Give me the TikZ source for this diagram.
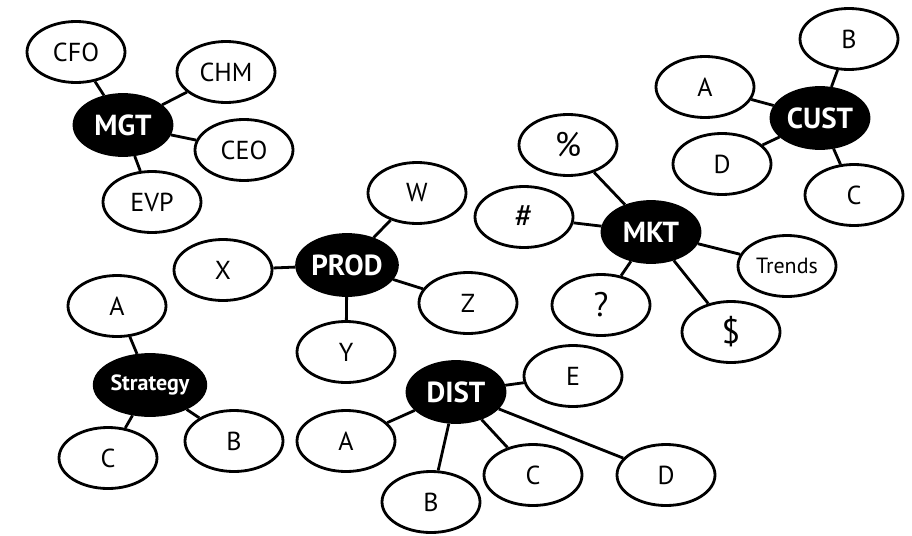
\documentclass[tikz,border=0pt]{standalone}
\usepackage{fontspec}
\setmainfont{PT Sans}
\usetikzlibrary{shapes.geometric}
\tikzset{
  leaf/.style={ellipse,draw=black,line width=2.8pt,fill=white,minimum width=98pt,minimum height=61pt,inner sep=0pt,font=\fontsize{26}{28}\selectfont},
  symleaf/.style={leaf,font=\fontsize{34}{36}\selectfont},
  hub/.style={ellipse,draw=black,line width=2.8pt,fill=black,text=white,minimum width=98pt,minimum height=61pt,inner sep=0pt,font=\bfseries\fontsize{29}{31}\selectfont},
  link/.style={line width=2.8pt,draw=black},
}
\begin{document}
\begin{tikzpicture}[x=1pt,y=-1pt]
\useasboundingbox[fill=white] (0,0) rectangle (912,535);
% MGT cluster
\node[hub] (mgt) at (123,125) {MGT};
\node[leaf] (cfo) at (76,52) {CFO};
\node[leaf] (chm) at (226,72) {CHM};
\node[leaf] (ceo) at (244,150) {CEO};
\node[leaf] (evp) at (152,202) {EVP};
% CUST cluster
\node[hub] (cust) at (820,118) {CUST};
\node[leaf] (cb) at (849,39) {B};
\node[leaf] (ca) at (705,87) {A};
\node[leaf] (cd) at (722,164) {D};
\node[leaf] (cc) at (854,195) {C};
% MKT cluster
\node[hub] (mkt) at (651,232) {MKT};
\node[symleaf] (pct) at (568,145) {\%};
\node[symleaf] (hash) at (524,217) {\#};
\node[leaf,font=\fontsize{22}{24}\selectfont] (trends) at (787,266) {Trends};
\node[symleaf] (q) at (601,305) {?};
\node[symleaf] (dol) at (731,332) {\$};
% PROD cluster
\node[hub] (prod) at (347,265) {PROD};
\node[leaf] (w) at (417,193) {W};
\node[leaf] (x) at (223,270) {X};
\node[leaf] (z) at (468,303) {Z};
\node[leaf] (y) at (346,352) {Y};
% DIST cluster
\node[hub] (dist) at (456,392) {DIST};
\node[leaf] (de) at (573,376) {E};
\node[leaf] (da) at (346,441) {A};
\node[leaf] (db) at (431,502) {B};
\node[leaf] (dc) at (533,475) {C};
\node[leaf] (dd) at (666,475) {D};
% Strategy cluster
\node[hub,font=\bfseries\fontsize{22}{24}\selectfont] (strat) at (150,385) {Strategy};
\node[leaf] (sa) at (117,306) {A};
\node[leaf] (sb) at (234,441) {B};
\node[leaf] (sc) at (108,458) {C};
% connectors
\draw[link] (mgt) -- (cfo); \draw[link] (mgt) -- (chm); \draw[link] (mgt) -- (ceo); \draw[link] (mgt) -- (evp);
\draw[link] (cust) -- (cb); \draw[link] (cust) -- (ca); \draw[link] (cust) -- (cd); \draw[link] (cust) -- (cc);
\draw[link] (mkt) -- (pct); \draw[link] (mkt) -- (hash); \draw[link] (mkt) -- (trends); \draw[link] (mkt) -- (q); \draw[link] (mkt) -- (dol);
\draw[link] (prod) -- (w); \draw[link] (prod) -- (x); \draw[link] (prod) -- (z); \draw[link] (prod) -- (y);
\draw[link] (dist) -- (de); \draw[link] (dist) -- (da); \draw[link] (dist) -- (db); \draw[link] (dist) -- (dc); \draw[link] (dist) -- (dd);
\draw[link] (strat) -- (sa); \draw[link] (strat) -- (sb); \draw[link] (strat) -- (sc);
\end{tikzpicture}
\end{document}
